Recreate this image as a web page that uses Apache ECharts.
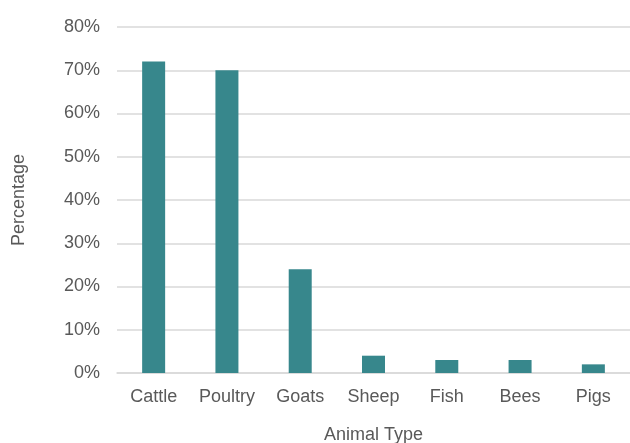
<!DOCTYPE html>
<html>
<head>
<meta charset="utf-8">
<script src="https://cdn.jsdelivr.net/npm/echarts@6/dist/echarts.min.js"></script>
<style>
  html, body { margin: 0; padding: 0; background: #fff; }
  #chart { width: 630px; height: 443px; }
</style>
</head>
<body>
<div id="chart"></div>
<script>
// Share of households keeping each animal type (%)
const categories = ['Cattle', 'Poultry', 'Goats', 'Sheep', 'Fish', 'Bees', 'Pigs'];
const percentages = [72, 70, 24, 4, 3, 3, 2];
const yTicks = { min: 0, max: 80, interval: 10 };

const textColor = '#595959';
const fontFamily = '"Liberation Sans", Arial, sans-serif';

const chart = echarts.init(document.getElementById('chart'), null, { renderer: 'canvas' });
chart.setOption({
  animation: false,
  backgroundColor: '#ffffff',
  textStyle: { fontFamily: fontFamily },
  grid: { left: 117, right: 0, top: 27, bottom: 70, containLabel: false, outerBoundsMode: 'none' },
  xAxis: {
    type: 'category',
    data: categories,
    name: 'Animal Type',
    nameLocation: 'middle',
    nameGap: 53,
    nameTextStyle: { color: textColor, fontSize: 18, fontFamily: fontFamily },
    axisLine: { show: true, lineStyle: { color: '#d9d9d9', width: 1.5 } },
    axisTick: { show: false },
    axisLabel: { color: textColor, fontSize: 18, margin: 15, fontFamily: fontFamily }
  },
  yAxis: {
    type: 'value',
    min: yTicks.min,
    max: yTicks.max,
    interval: yTicks.interval,
    name: 'Percentage',
    nameLocation: 'middle',
    nameGap: 89,
    nameTextStyle: { color: textColor, fontSize: 18, fontFamily: fontFamily },
    axisLine: { show: false },
    axisTick: { show: false },
    axisLabel: { color: textColor, fontSize: 18, margin: 17, formatter: '{value}%', fontFamily: fontFamily },
    splitLine: { lineStyle: { color: '#d9d9d9', width: 1.5 } }
  },
  series: [{
    type: 'bar',
    data: percentages,
    barWidth: 23,
    itemStyle: { color: '#37878c' }
  }]
});
</script>
</body>
</html>
